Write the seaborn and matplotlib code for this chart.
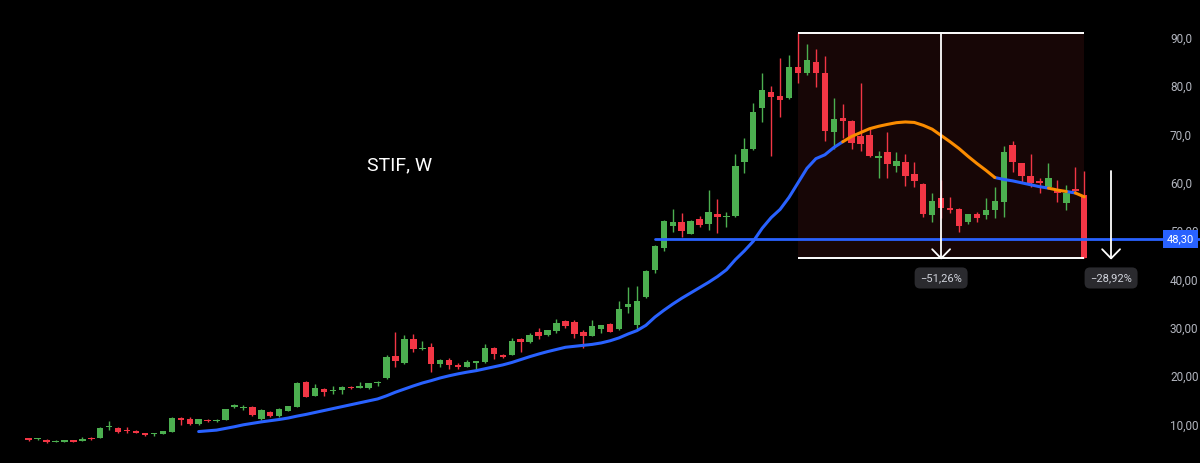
import numpy as np
import pandas as pd
import matplotlib
matplotlib.use("Agg")
import matplotlib.pyplot as plt
import matplotlib.transforms as mtransforms
from matplotlib.patches import Rectangle
import seaborn as sns

# Weekly candles (values in price units)
opens = [7.1, 6.9, 6.8, 6.3, 6.4, 6.75, 6.6, 7.1, 7.2, 9.4,
         9.2, 8.9, 8.4, 8.1, 8.0, 8.0, 8.5, 11.4, 11.2, 10.0,
         10.9, 10.6, 10.9, 13.5, 13.3, 13.6, 11.1, 12.6, 11.7, 12.8,
         13.6, 18.8, 15.9, 17.4, 16.9, 17.1, 17.8, 17.6, 17.5, 18.5,
         19.5, 24.1, 22.7, 27.6, 25.5, 26.1, 22.5, 23.4, 22.3, 21.9,
         22.6, 23.0, 25.7, 24.4, 24.4, 27.7, 27.0, 29.1, 28.5, 29.3,
         31.4, 31.2, 29.2, 28.3, 29.7, 30.7, 29.7, 34.2, 30.6, 36.3,
         41.9, 46.6, 51.1, 51.8, 49.4, 52.5, 51.5, 53.5, 52.9, 53.1,
         64.3, 66.9, 75.4, 78.7, 78.0, 77.5, 84.0, 82.8, 85.1, 82.7,
         70.6, 73.4, 72.7, 69.7, 69.9, 65.1, 66.4, 63.4, 64.4, 61.8,
         59.8, 53.3, 56.8, 54.8, 54.6, 51.8, 53.5, 53.3, 54.4, 56.0,
         67.8, 64.0, 61.5, 60.4, 59.2, 58.5, 55.8, 58.65, 57.5]
highs = [7.2, 7.2, 6.9, 6.65, 6.8, 6.85, 7.3, 7.3, 9.4, 10.7,
         9.4, 9.4, 8.9, 8.2, 8.15, 8.7, 11.5, 11.5, 11.5, 11.1,
         11.0, 11.0, 13.2, 14.2, 14.1, 13.8, 13.1, 12.8, 13.3, 13.8,
         18.8, 19.0, 18.3, 17.5, 17.9, 17.9, 17.9, 18.8, 18.6, 18.9,
         24.4, 29.2, 28.5, 28.6, 27.3, 26.8, 23.5, 23.8, 22.6, 23.4,
         23.2, 26.6, 26.0, 24.6, 27.9, 27.8, 29.0, 30.0, 29.6, 31.8,
         31.6, 31.5, 29.5, 31.7, 30.6, 31.0, 35.6, 38.4, 38.6, 41.9,
         47.1, 52.2, 54.6, 53.7, 52.3, 53.2, 58.5, 56.6, 53.9, 66.0,
         69.2, 76.6, 82.7, 80.1, 85.8, 86.4, 91.0, 88.7, 87.7, 86.3,
         77.5, 76.3, 73.0, 80.7, 71.1, 66.6, 70.6, 66.4, 65.9, 64.25,
         60.0, 57.8, 60.6, 57.1, 54.8, 53.6, 54.0, 56.85, 59.1, 67.6,
         68.65, 64.2, 66.0, 61.05, 64.0, 60.6, 59.5, 63.3, 62.4]
lows = [6.6, 6.85, 6.2, 6.25, 6.35, 6.35, 6.55, 6.85, 7.1, 8.9,
        8.1, 8.2, 8.25, 7.5, 7.6, 7.9, 8.4, 9.9, 9.9, 9.9,
        10.5, 10.5, 10.8, 13.4, 12.9, 11.8, 10.9, 11.5, 11.6, 12.7,
        13.5, 15.6, 15.8, 15.8, 16.3, 16.3, 17.4, 17.55, 17.4, 17.9,
        19.4, 21.9, 22.5, 25.0, 25.4, 20.8, 21.8, 21.4, 21.5, 21.8,
        21.2, 22.6, 23.5, 23.7, 24.3, 25.0, 26.9, 27.7, 28.2, 28.9,
        30.0, 27.9, 25.9, 28.2, 29.0, 29.1, 29.6, 33.1, 29.7, 36.2,
        41.3, 45.9, 49.9, 48.8, 49.3, 50.9, 50.2, 49.7, 50.9, 53.0,
        62.1, 66.8, 72.65, 65.6, 73.7, 77.4, 80.7, 82.3, 79.9, 68.7,
        66.9, 69.3, 66.9, 66.6, 65.4, 61.05, 60.9, 62.3, 59.4, 59.2,
        52.9, 51.9, 52.65, 53.8, 49.75, 51.5, 51.95, 52.6, 52.65, 53.0,
        62.3, 59.9, 59.2, 57.8, 58.9, 56.1, 54.4, 57.8, 44.35]
closes = [6.8, 7.0, 6.3, 6.6, 6.7, 6.4, 7.0, 6.9, 9.3, 9.6,
          8.4, 8.6, 8.3, 7.8, 8.1, 8.6, 11.4, 10.8, 10.0, 11.0,
          10.6, 10.95, 13.1, 13.9, 13.6, 12.0, 13.0, 11.7, 13.2, 13.7,
          18.5, 15.7, 17.6, 16.6, 17.1, 17.8, 17.5, 17.7, 18.5, 18.7,
          23.9, 23.1, 27.7, 25.6, 25.7, 22.4, 23.4, 22.3, 21.9, 22.8,
          23.1, 25.7, 24.5, 24.0, 27.3, 27.0, 28.5, 28.3, 29.5, 30.9,
          30.4, 28.6, 28.3, 30.3, 30.5, 29.2, 33.8, 35.0, 35.6, 41.8,
          47.0, 52.1, 51.8, 50.1, 52.1, 51.3, 54.0, 53.0, 53.1, 63.5,
          66.9, 74.6, 79.2, 77.7, 77.1, 83.9, 82.8, 85.4, 82.8, 70.8,
          73.2, 72.8, 68.3, 68.0, 65.6, 65.6, 63.9, 64.5, 61.4, 60.4,
          53.5, 56.2, 54.7, 54.3, 51.1, 53.5, 52.8, 54.3, 56.3, 66.4,
          64.3, 61.5, 59.9, 59.9, 60.9, 57.8, 57.8, 58.3, 44.35]

# Moving average, one value per candle from candle 19 on
ma_start = 19
ma_values = [8.5, 8.65, 8.8, 9.15, 9.5, 9.9, 10.2, 10.5, 10.75, 11.0,
             11.3, 11.7, 12.05, 12.45, 12.85, 13.25, 13.65, 14.05, 14.45, 14.85,
             15.25, 15.9, 16.65, 17.3, 17.95, 18.55, 19.05, 19.6, 20.05, 20.45,
             20.8, 21.1, 21.5, 21.9, 22.3, 22.8, 23.4, 24.0, 24.55, 25.05,
             25.5, 25.95, 26.15, 26.35, 26.55, 26.85, 27.3, 27.9, 28.7, 29.4,
             30.5, 32.2, 33.6, 34.9, 36.1, 37.2, 38.3, 39.4, 40.6, 42.0,
             44.1, 45.9, 47.9, 50.6, 52.8, 54.5, 57.0, 60.0, 63.0, 65.0,
             65.8, 67.3, 68.5, 69.6, 70.4, 71.2, 71.7, 72.1, 72.45, 72.6,
             72.5, 71.9, 71.1, 69.8, 68.5, 67.1, 65.5, 64.0, 62.6, 61.1,
             60.7, 60.4, 60.0, 59.6, 59.2, 58.9, 58.5, 58.2, 57.9, 57.1]
orange_spans = [(91, 108), (114, 116), (117, 118)]

level = 48.30
level_start = 70
box_start, box_end = 86, 118
arrow2_idx = 121
arrow2_top = 62.4
pct_labels = ["\u221251,26%", "\u221228,92%"]

ytick_vals = [10, 20, 30, 40, 50, 60, 70, 80, 90]
ytick_labels = ["10,00", "20,00", "30,00", "40,00", "50,00", "60,0", "70,0", "80,0", "90,0"]

GREEN = "#4caf50"
RED = "#f23645"
BLUE = "#2962ff"
ORANGE = "#fb8c00"

sns.set_theme(style="dark", rc={"axes.facecolor": "black", "figure.facecolor": "black"})
plt.rcParams["font.family"] = ["Roboto", "DejaVu Sans"]

fig = plt.figure(figsize=(12, 4.63), dpi=100)
ax = fig.add_axes([0, 0, 1, 1])
ax.set_facecolor("black")

candles = pd.DataFrame({"open": opens, "high": highs, "low": lows, "close": closes})
candles["idx"] = np.arange(len(candles))
candles["up"] = candles["close"] >= candles["open"]
colors = np.where(candles["up"], GREEN, RED)

# measured range box
box_top = candles.loc[box_start:box_end, "high"].max()
box_bottom = candles["close"].iloc[box_end]
ax.add_patch(Rectangle((box_start, box_bottom), box_end - box_start, box_top - box_bottom,
                       facecolor="#170606", edgecolor="none", zorder=0))
ax.hlines([box_top, box_bottom], box_start, box_end, color="white", lw=1.4, zorder=4)

# candles
ax.vlines(candles["idx"], candles["low"], candles["high"], colors=colors, lw=1.0, zorder=2)
body_low = np.minimum(candles["open"], candles["close"])
body_h = np.maximum((candles["close"] - candles["open"]).abs(), 0.25)
ax.bar(candles["idx"], body_h, bottom=body_low, width=0.72, color=colors, linewidth=0, zorder=2)

# moving average, coloured in runs
runs = []
run_id = 0
prev = None
for i in range(len(ma_values) - 1):
    a = ma_start + i
    col = "orange" if any(s <= a < e for s, e in orange_spans) else "blue"
    if col != prev:
        run_id += 1
        runs.append({"idx": a, "ma": ma_values[i], "col": col, "run": run_id})
    runs.append({"idx": a + 1, "ma": ma_values[i + 1], "col": col, "run": run_id})
    prev = col
ma_df = pd.DataFrame(runs)
sns.lineplot(data=ma_df, x="idx", y="ma", hue="col", units="run", estimator=None,
             palette={"blue": BLUE, "orange": ORANGE}, lw=2.2, legend=False,
             sort=False, ax=ax, zorder=3)

# horizontal level
xmax = 130.94
ax.plot([level_start, xmax], [level, level], color=BLUE, lw=2.0, zorder=3)

# arrows
mid = (box_start + box_end) / 2
for xa, ya in [(mid, box_top), (arrow2_idx, arrow2_top)]:
    ax.plot([xa, xa], [ya, box_bottom], color="white", lw=1.3, zorder=5)
    ax.plot([xa - 1.0, xa, xa + 1.0], [box_bottom + 1.9, box_bottom, box_bottom + 1.9],
            color="white", lw=1.3, zorder=5)

for xa, txt in zip([mid, arrow2_idx], pct_labels):
    ax.text(xa, 40.3, txt, ha="center", va="center", color="#d1d4dc", fontsize=8,
            bbox=dict(boxstyle="round,pad=0.5", fc="#2a2a2e", ec="none"), zorder=6)

ax.text(41.5, 63.7, "STIF, W", color="white", fontsize=14, ha="center", va="center")

# price axis on the right, inside the figure
ax.set_xlim(-3.21, xmax)
ax.set_ylim(1.99, 97.85)
ax.set_xticks([])
ax.set_yticks(ytick_vals, ytick_labels)
ax.yaxis.tick_right()
ax.tick_params(axis="y", length=0, pad=-21.6, labelsize=8.5, labelcolor="#b2b5be")
ax.grid(False)
ax.set_xlabel("")
ax.set_ylabel("")
for sp in ax.spines.values():
    sp.set_visible(False)

trans = mtransforms.blended_transform_factory(ax.transAxes, ax.transData)
ax.text(0.9725, level, "48,30", transform=trans, ha="left", va="center", color="white",
        fontsize=8, bbox=dict(boxstyle="square,pad=0.35", fc=BLUE, ec="none"), zorder=7)

plt.savefig("out.png", dpi=100, facecolor="black")
